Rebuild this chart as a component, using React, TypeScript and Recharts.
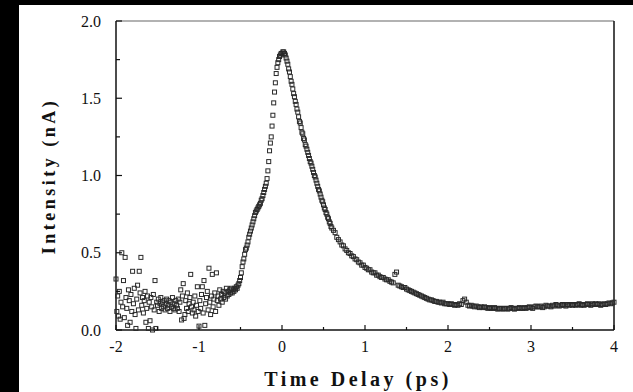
import { ReferenceLine, Scatter, ScatterChart, XAxis, YAxis } from "recharts";

// delay scan on a fixed stage step, intensities (nA)
const BASELINE_START = -2.0;
const BASELINE_STEP = 0.01;
const baselineIntensity = [
  0.33, 0.12, 0.22, 0.09, 0.25, 0.07, 0.18, 0.5, 0.15, 0.32, // -2.00
  0.08, 0.47, 0.21, 0.14, 0.03, 0.26, 0.19, 0.05, 0.23, 0.12, // -1.90
  0.38, 0.17, 0.27, 0.1, 0.01, 0.2, 0.29, 0.13, 0.38, 0.24, // -1.80
  0.47, 0.16, 0.21, 0.11, 0.19, 0.25, 0.05, 0.14, 0.22, 0.01, // -1.70
  0.18, 0.06, 0.21, 0.15, 0.0, 0.23, 0.13, 0.32, 0.01, 0.18, // -1.60
  0.16, 0.2, 0.12, 0.17, 0.21, 0.14, 0.18, 0.15, 0.19, 0.13, // -1.50
  0.17, 0.2, 0.14, 0.16, 0.19, 0.12, 0.18, 0.15, 0.21, 0.14, // -1.40
  0.17, 0.13, 0.19, 0.16, 0.14, 0.2, 0.12, 0.18, 0.26, 0.065, // -1.30
  0.22, 0.3, 0.075, 0.1, 0.19, 0.14, 0.24, 0.12, 0.17, 0.21, // -1.20
  0.36, 0.15, 0.11, 0.18, 0.13, 0.22, 0.09, 0.16, 0.28, 0.12, // -1.10
  0.025, 0.19, 0.14, 0.23, 0.28, 0.11, 0.32, 0.03, 0.17, 0.21, // -1.00
  0.25, 0.13, 0.4, 0.18, 0.1, 0.22, 0.36, 0.15, 0.2, 0.24, // -0.90
  0.12, 0.37, 0.19, 0.22, 0.16, 0.26, 0.2, 0.23, 0.18, 0.25, // -0.80
  0.21, 0.24, 0.2, 0.27, 0.22, 0.25, 0.23, 0.26, 0.24, 0.27, // -0.70
];

const RISE_START = -0.6;
const RISE_STEP = 0.01;
const riseIntensity = [
  0.24, 0.26, 0.25, 0.27, 0.26, 0.28, 0.27, 0.29, 0.3, 0.32, // -0.60
  0.34, 0.37, 0.41, 0.44, 0.46, 0.49, 0.52, 0.53, 0.55, 0.57, // -0.50
  0.6, 0.62, 0.64, 0.66, 0.68, 0.7, 0.72, 0.74, 0.76, 0.77, // -0.40
  0.78, 0.79, 0.8, 0.81, 0.82, 0.84, 0.85, 0.87, 0.89, 0.91, // -0.30
  0.93, 0.95, 0.98, 1.03, 1.09, 1.16, 1.21, 1.25, 1.32, 1.39, // -0.20
  1.47, 1.54, 1.6, 1.66, 1.7, 1.73, 1.75, 1.77, 1.78, 1.79, // -0.10
];

const PEAK_START = 0;
const PEAK_STEP = 0.01;
const peakIntensity = [
  1.79, 1.8, 1.8, 1.79, 1.78, 1.76, 1.74, 1.72, 1.69, 1.67, // 0.00
  1.64, 1.61, 1.59, 1.56, 1.53, 1.51, 1.48, 1.46, 1.43, 1.41, // 0.10
  1.38, 1.35, 1.34, 1.31, 1.28, 1.27, 1.24, 1.23, 1.2, 1.19, // 0.20
  1.17, 1.15, 1.13, 1.11, 1.09, 1.08, 1.06, 1.04, 1.02, 1.0, // 0.30
  0.99, 0.97, 0.95, 0.93, 0.91, 0.9, 0.88, 0.86, 0.84, 0.83, // 0.40
  0.81, 0.79, 0.78, 0.76, 0.75, 0.73, 0.72, 0.7, 0.69, 0.67, // 0.50
  0.66,
];

const TAIL_START = 0.62;
const TAIL_STEP = 0.02;
const tailIntensity = [
  0.645, 0.63, 0.6, 0.585, 0.57, 0.55, 0.545, 0.525, 0.515, 0.5, // 0.62
  0.495, 0.48, 0.475, 0.46, 0.455, 0.44, 0.435, 0.42, 0.42, 0.405, // 0.82
  0.4, 0.39, 0.39, 0.375, 0.37, 0.37, 0.355, 0.355, 0.345, 0.34, // 1.02
  0.34, 0.33, 0.325, 0.325, 0.315, 0.31, 0.305, 0.36, 0.375, 0.29, // 1.22
  0.285, 0.28, 0.275, 0.275, 0.265, 0.26, 0.255, 0.25, 0.245, 0.24, // 1.42
  0.235, 0.23, 0.225, 0.22, 0.215, 0.21, 0.205, 0.2, 0.195, 0.195, // 1.62
  0.19, 0.185, 0.185, 0.18, 0.18, 0.175, 0.18, 0.17, 0.17, 0.17, // 1.82
  0.165, 0.17, 0.165, 0.16, 0.165, 0.16, 0.17, 0.165, 0.19, 0.2, // 2.02
  0.18, 0.16, 0.155, 0.16, 0.155, 0.15, 0.155, 0.15, 0.145, 0.15, // 2.22
  0.145, 0.15, 0.145, 0.14, 0.145, 0.14, 0.14, 0.145, 0.14, 0.135, // 2.42
  0.14, 0.14, 0.135, 0.14, 0.14, 0.135, 0.14, 0.145, 0.14, 0.135, // 2.62
  0.14, 0.14, 0.145, 0.14, 0.14, 0.145, 0.14, 0.145, 0.15, 0.145, // 2.82
  0.14, 0.15, 0.155, 0.15, 0.15, 0.155, 0.145, 0.15, 0.16, 0.155, // 3.02
  0.155, 0.15, 0.16, 0.155, 0.165, 0.16, 0.155, 0.16, 0.165, 0.16, // 3.22
  0.155, 0.165, 0.16, 0.165, 0.16, 0.165, 0.16, 0.165, 0.17, 0.16, // 3.42
  0.165, 0.16, 0.165, 0.17, 0.165, 0.16, 0.17, 0.165, 0.17, 0.165, // 3.62
  0.17, 0.16, 0.165, 0.17, 0.165, 0.17, 0.175, 0.17, 0.175, 0.18, // 3.82
];

const xTicks = [-2, -1.5, -1, -0.5, 0, 0.5, 1, 1.5, 2, 2.5, 3, 3.5, 4];
const yTicks = [0, 0.25, 0.5, 0.75, 1, 1.25, 1.5, 1.75, 2];
const yLabelTicks = [0, 0.5, 1, 1.5, 2];

const segment = (start: number, step: number, values: number[]) =>
  values.map((intensity, i) => ({ delay: +(start + i * step).toFixed(2), intensity }));

const trace = [
  ...segment(BASELINE_START, BASELINE_STEP, baselineIntensity),
  ...segment(RISE_START, RISE_STEP, riseIntensity),
  ...segment(PEAK_START, PEAK_STEP, peakIntensity),
  ...segment(TAIL_START, TAIL_STEP, tailIntensity),
];

const SERIF = '"Liberation Serif", "Times New Roman", serif';
const INK = "#111";
const Y_GAP = 15;
const X_GAP = 8;

function YTick(props: any) {
  const { x, y, payload } = props;
  const axisX = x + Y_GAP;
  const major = yLabelTicks.includes(payload.value);
  return (
    <g>
      <line x1={axisX} x2={axisX + (major ? 6 : 4)} y1={y} y2={y} stroke={INK} strokeWidth={1.2} />
      {major && (
        <text x={x} y={y + 5.5} textAnchor="end" fontSize={16} fontFamily={SERIF} fill={INK}>
          {payload.value.toFixed(1)}
        </text>
      )}
    </g>
  );
}

function XTick(props: any) {
  const { x, y, payload } = props;
  const axisY = y - X_GAP;
  const major = Number.isInteger(payload.value);
  return (
    <g>
      <line x1={x} x2={x} y1={axisY} y2={axisY - (major ? 5 : 3)} stroke={INK} strokeWidth={1.2} />
      {major && (
        <text x={x} y={axisY + 22} textAnchor="middle" fontSize={16} fontFamily={SERIF} fill={INK}>
          {String(payload.value)}
        </text>
      )}
    </g>
  );
}

const squareMarker = (props: any) => (
  <rect x={props.cx - 2} y={props.cy - 2} width={4} height={4} fill="none" stroke="#2a2a2a" strokeWidth={1} />
);

export default function App() {
  return (
    <div style={{ position: "absolute", left: 0, top: 0, width: 633, height: 392, background: "#000" }}>
      <div style={{ position: "absolute", left: 19, top: 5, right: 0, bottom: 0, background: "#fff" }} />
      <div style={{ position: "absolute", left: 0, top: 0 }}>
        <ScatterChart width={633} height={392} margin={{ top: 21, right: 19, bottom: 32, left: 18 }}>
          <XAxis
            type="number"
            dataKey="delay"
            domain={[-2, 4]}
            ticks={xTicks}
            interval={0}
            tickSize={0}
            tickMargin={X_GAP}
            tick={XTick}
            height={30}
            axisLine={{ stroke: INK, strokeWidth: 1.5 }}
            label={{
              content: () => (
                <text x={358} y={386} textAnchor="middle" fontSize={20} fontWeight="bold" letterSpacing={3.5} fontFamily={SERIF} fill={INK}>
                  Time Delay (ps)
                </text>
              ),
            }}
          />
          <YAxis
            type="number"
            dataKey="intensity"
            domain={[0, 2]}
            ticks={yTicks}
            interval={0}
            tickSize={0}
            tickMargin={Y_GAP}
            tick={YTick}
            width={98}
            axisLine={{ stroke: INK, strokeWidth: 1.5 }}
            label={{
              content: () => (
                <text
                  transform="translate(55, 176) rotate(-90)"
                  textAnchor="middle"
                  fontSize={18}
                  fontWeight="bold"
                  letterSpacing={3.5}
                  fontFamily={SERIF}
                  fill={INK}
                >
                  Intensity (nA)
                </text>
              ),
            }}
          />
          <ReferenceLine y={2} stroke="#666" strokeWidth={1.2} />
          <ReferenceLine x={4} stroke={INK} strokeWidth={1.5} />
          <Scatter data={trace} dataKey="intensity" shape={squareMarker} isAnimationActive={false} />
        </ScatterChart>
      </div>
    </div>
  );
}
